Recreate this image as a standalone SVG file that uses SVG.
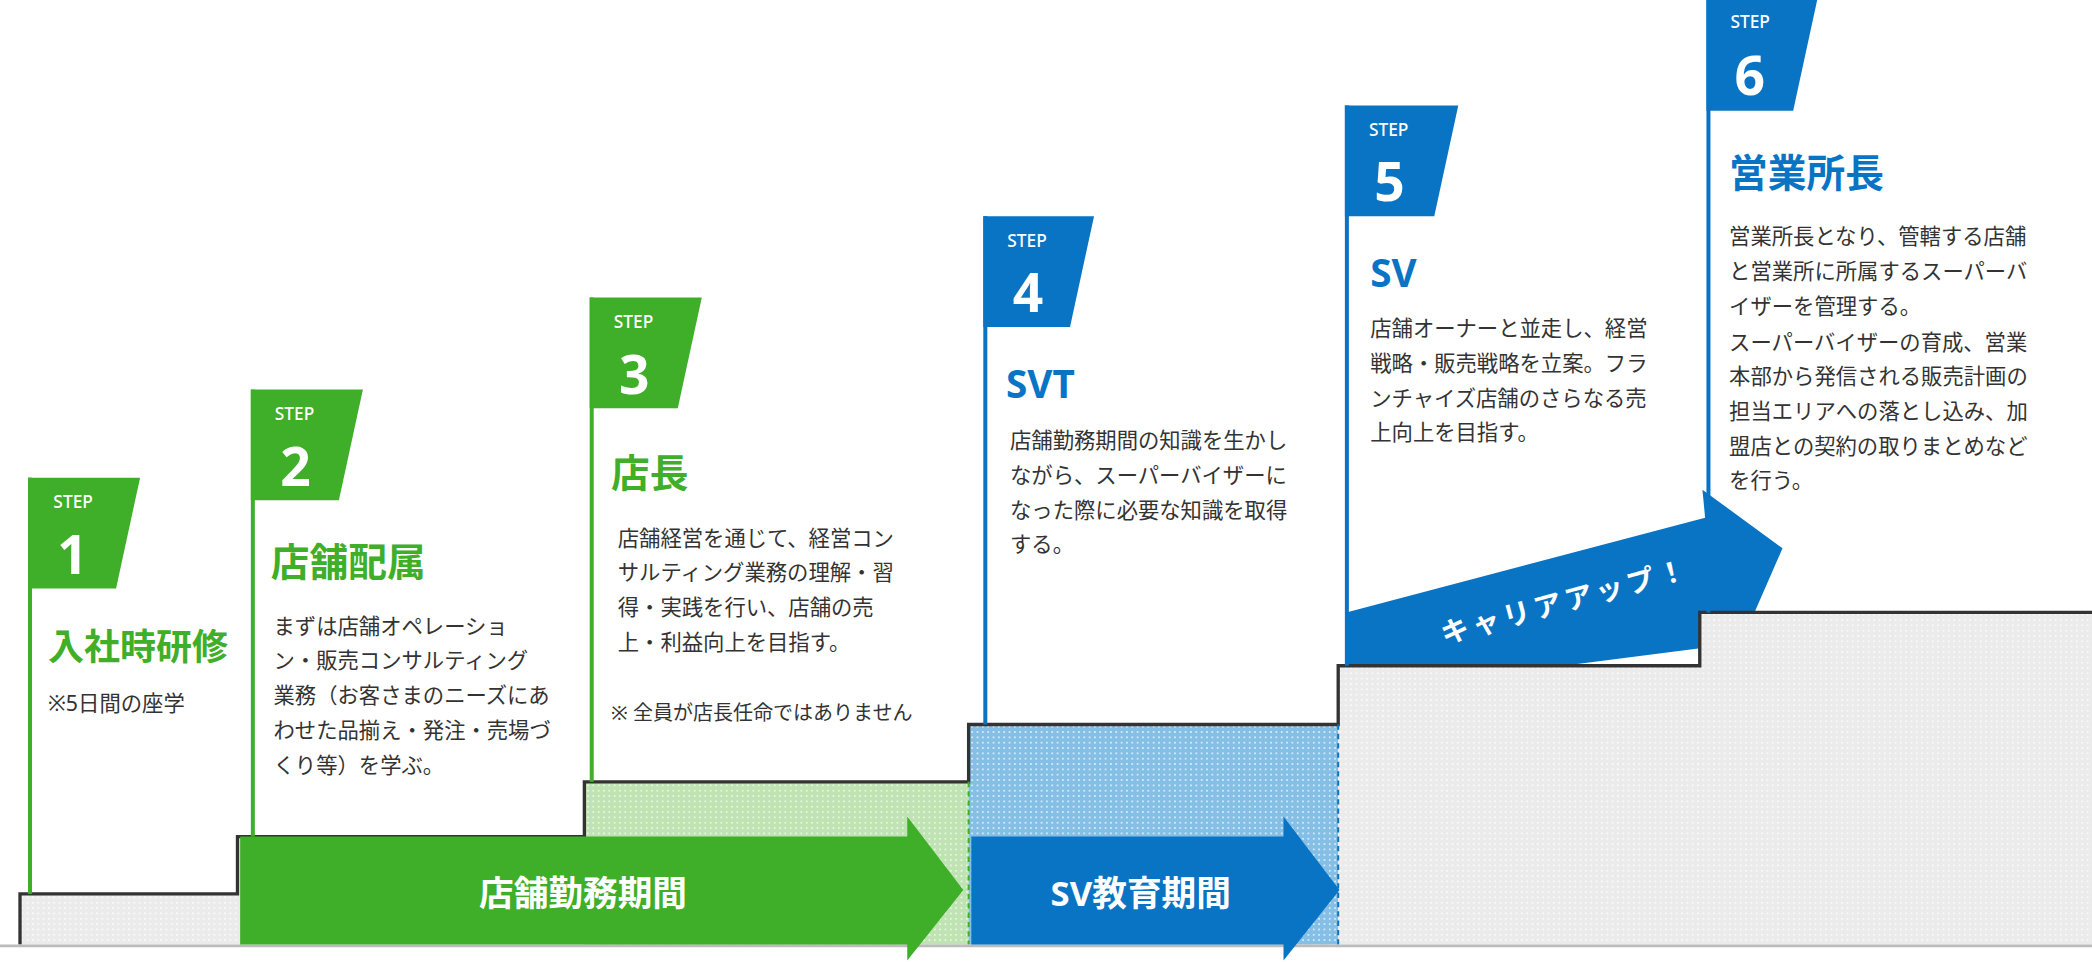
<svg xmlns="http://www.w3.org/2000/svg" width="2092" height="962" viewBox="0 0 2092 962">
<defs>
<style>
text{font-family:"Noto Sans","Noto Sans CJK JP",sans-serif}
.g{fill:#3fae29}.b{fill:#0a74c4}
.step{fill:#fff;font-size:13px;font-weight:500}
.num{fill:#fff;font-size:40px;font-weight:700}
.tg{fill:#3fae29;font-size:29px;font-weight:700}
.tb{fill:#0a74c4;font-size:29px;font-weight:700}
.body{fill:#333;font-size:16px}
.lbl{fill:#fff;font-size:26px;font-weight:700;text-anchor:middle}
</style>
<pattern id="pg" width="4" height="4" patternUnits="userSpaceOnUse"><rect width="4" height="4" fill="#ebebeb"/><rect width="1.3" height="1.3" fill="#fafafa"/></pattern>
<pattern id="pgr" width="4" height="4" patternUnits="userSpaceOnUse"><rect width="4" height="4" fill="#bfe3b2"/><rect width="1.3" height="1.3" fill="#eaf6e5"/></pattern>
<pattern id="pb" width="4" height="4" patternUnits="userSpaceOnUse"><rect width="4" height="4" fill="#86bfe6"/><rect width="1.3" height="1.3" fill="#d8ebf8"/></pattern>
</defs>
<rect width="2092" height="962" fill="#fff"/>
<g transform="scale(1.3342)">
<g id="career-arrow">
<polygon class="b" points="1009,499 1009,459 1278,388 1276,367 1336,411 1305,482 1172,499"/>
<text x="1175" y="458" transform="rotate(-15 1175 458)" style="fill:#fff;font-size:21px;font-weight:700;text-anchor:middle;letter-spacing:3px">キャリアアップ！</text>
</g>
<g id="stairs">
<path d="M15,708 V670 H178 V627 H438 V586 H726 V708 Z" fill="url(#pg)"/>
<rect x="438" y="586" width="288" height="122" fill="url(#pgr)"/>
<rect x="726" y="543" width="277" height="165" fill="url(#pb)"/>
<path d="M1003,708 V499 H1274 V459 H1568 V708 Z" fill="url(#pg)"/>
<path d="M15,708 V670 H178 V627 H438 V586 H726 V543 H1003 V499 H1274 V459 H1568" fill="none" stroke="#333" stroke-width="2.5"/>
<line x1="726" y1="586" x2="726" y2="708" stroke="#3fae29" stroke-width="1.5" stroke-dasharray="4 3"/>
<line x1="1003" y1="543" x2="1003" y2="708" stroke="#0a74c4" stroke-width="1.5" stroke-dasharray="4 3"/>
<line x1="0" y1="709" x2="1568" y2="709" stroke="#bbb" stroke-width="2"/>
</g>
<g id="connectors">
<polygon class="g" points="180,627 680,627 680,612 722,667 680,720 680,708 180,708"/>
<text class="lbl" x="437" y="679">店舗勤務期間</text>
<polygon class="b" points="728,627 962,627 962,612 1004,667 962,720 962,708 728,708"/>
<text class="lbl" x="855" y="679">SV教育期間</text>
</g>
<g id="step1">
<rect class="g" x="21" y="358" width="3" height="312"/>
<polygon class="g" points="21,358 105,358 87,441 21,441"/>
<text class="step" x="40" y="381">STEP</text>
<text class="num" x="43" y="430">1</text>
<text class="tg" x="36" y="495" style="font-size:27px">入社時研修</text>
<text class="body" x="36" y="533">※5日間の座学</text>
</g>
<g id="step2">
<rect class="g" x="188" y="292" width="3" height="335"/>
<polygon class="g" points="188,292 272,292 254,375 188,375"/>
<text class="step" x="206" y="315">STEP</text>
<text class="num" x="210" y="364">2</text>
<text class="tg" x="203" y="432">店舗配属</text>
<text class="body"><tspan x="205" y="475">まずは店舗オペレーショ</tspan><tspan x="205" y="501">ン・販売コンサルティング</tspan><tspan x="205" y="527">業務（お客さまのニーズにあ</tspan><tspan x="205" y="553">わせた品揃え・発注・売場づ</tspan><tspan x="205" y="579">くり等）を学ぶ。</tspan></text>
</g>
<g id="step3">
<rect class="g" x="442" y="223" width="3" height="363"/>
<polygon class="g" points="442,223 526,223 508,306 442,306"/>
<text class="step" x="460" y="246">STEP</text>
<text class="num" x="464" y="295">3</text>
<text class="tg" x="458" y="365">店長</text>
<text class="body"><tspan x="463" y="409">店舗経営を通じて、経営コン</tspan><tspan x="463" y="435">サルティング業務の理解・習</tspan><tspan x="463" y="461">得・実践を行い、店舗の売</tspan><tspan x="463" y="487">上・利益向上を目指す。</tspan></text>
<text class="body" x="458" y="540" style="font-size:15px">※ 全員が店長任命ではありません</text>
</g>
<g id="step4">
<rect class="b" x="737" y="162" width="3" height="381"/>
<polygon class="b" points="737,162 820,162 802,245 737,245"/>
<text class="step" x="755" y="185">STEP</text>
<text class="num" x="759" y="234">4</text>
<text class="tb" x="754" y="298">SVT</text>
<text class="body"><tspan x="757" y="336">店舗勤務期間の知識を生かし</tspan><tspan x="757" y="362">ながら、スーパーバイザーに</tspan><tspan x="757" y="388">なった際に必要な知識を取得</tspan><tspan x="757" y="414">する。</tspan></text>
</g>
<g id="step5">
<rect class="b" x="1008" y="79" width="3" height="420"/>
<polygon class="b" points="1008,79 1093,79 1075,162 1008,162"/>
<text class="step" x="1026" y="102">STEP</text>
<text class="num" x="1030" y="151">5</text>
<text class="tb" x="1027" y="215">SV</text>
<text class="body"><tspan x="1027" y="252">店舗オーナーと並走し、経営</tspan><tspan x="1027" y="278">戦略・販売戦略を立案。フラ</tspan><tspan x="1027" y="304">ンチャイズ店舗のさらなる売</tspan><tspan x="1027" y="330">上向上を目指す。</tspan></text>
</g>
<g id="step6">
<rect class="b" x="1279" y="0" width="3" height="459"/>
<polygon class="b" points="1279,0 1362,0 1344,83 1279,83"/>
<text class="step" x="1297" y="21">STEP</text>
<text class="num" x="1300" y="71">6</text>
<text class="tb" x="1296" y="140">営業所長</text>
<text class="body"><tspan x="1296" y="183">営業所長となり、管轄する店舗</tspan><tspan x="1296" y="209">と営業所に所属するスーパーバ</tspan><tspan x="1296" y="235">イザーを管理する。</tspan><tspan x="1296" y="262">スーパーバイザーの育成、営業</tspan><tspan x="1296" y="288">本部から発信される販売計画の</tspan><tspan x="1296" y="314">担当エリアへの落とし込み、加</tspan><tspan x="1296" y="340">盟店との契約の取りまとめなど</tspan><tspan x="1296" y="366">を行う。</tspan></text>
</g>
</g>
</svg>
